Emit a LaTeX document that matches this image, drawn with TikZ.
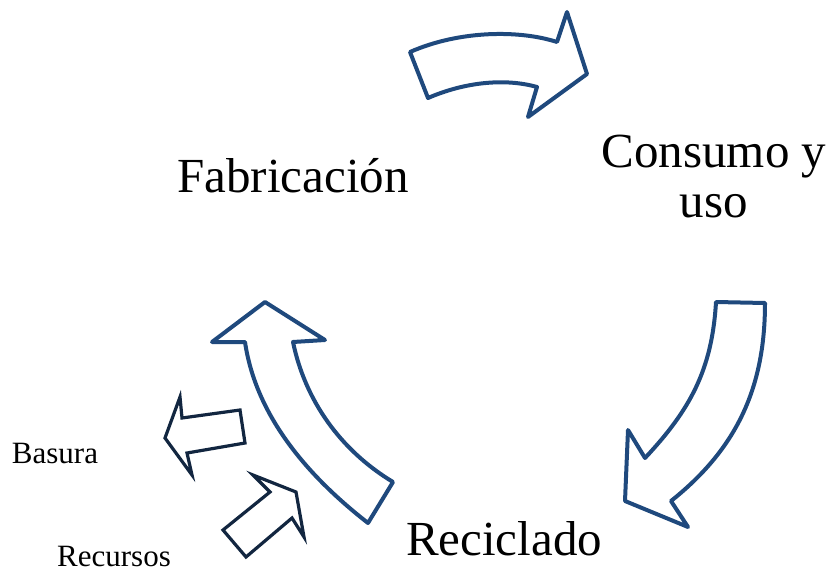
\documentclass[tikz,border=0pt]{standalone}
\usepackage{fontspec}
\setmainfont{Liberation Serif}
\definecolor{cycleblue}{RGB}{31,73,125}
\definecolor{sidenavy}{RGB}{18,38,64}

\begin{document}
\begin{tikzpicture}[x=1pt,y=-1pt,
  cyclearrow/.style={draw=cycleblue,line width=4pt,line join=round,fill=white},
  sidearrow/.style={draw=sidenavy,line width=3.2pt,line join=miter,fill=white},
  bigtext/.style={inner sep=0pt,anchor=base,font=\fontsize{49}{50}\selectfont},
  smalltext/.style={inner sep=0pt,anchor=base,font=\fontsize{31}{32}\selectfont}]
\useasboundingbox (0,0) rectangle (832,572); % edit here for the margins
% the three arrows of the cycle
\draw[cyclearrow] (410,52) -- (428,98) .. controls (465,82) and (505,78) .. (537,87)
  -- (528,117) -- (587,74) -- (567,12) -- (557,42)
  .. controls (520,30) and (460,30) .. (410,52) -- cycle;
\draw[cyclearrow] (716,302) -- (765,303) .. controls (765,390) and (735,450) .. (671,501)
  -- (688,527) -- (625,501) -- (628,430) -- (645,458)
  .. controls (690,410) and (712,370) .. (716,302) -- cycle;
\draw[cyclearrow] (265,302) -- (325,340) -- (293,342)
  .. controls (305,400) and (340,450) .. (393,482) -- (368,523)
  .. controls (300,470) and (255,410) .. (245,342) -- (212,342) -- cycle;
% the two small arrows
\draw[sidearrow] (165,438) -- (180,397) -- (182,418) -- (240,410) -- (245,443)
  -- (187,453) -- (192,475) -- cycle;
\draw[sidearrow] (223,530) -- (270,492) -- (253,475) -- (296,492) -- (304,537)
  -- (292,518) -- (246,557) -- cycle;
% the labels
\node[bigtext] (fab) at (293,193) {Fabricación};
\node[bigtext,align=center] (consumo) at (714,218) {Consumo y\\uso}; % base is the last line
\node[bigtext] (recic) at (504,555) {Reciclado};
\node[smalltext] (basura) at (55,463) {Basura};
\node[smalltext] (recursos) at (114,566) {Recursos};
\end{tikzpicture}
\end{document}
